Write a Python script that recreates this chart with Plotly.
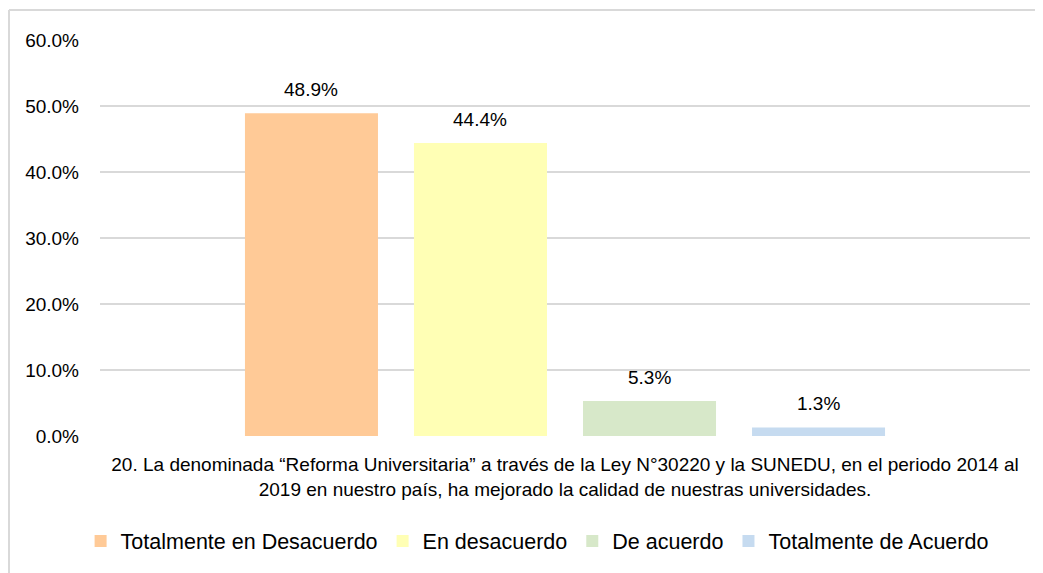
import plotly.graph_objects as go

categories = ["20. La denominada “Reforma Universitaria” a través de la Ley N°30220 y la SUNEDU, en el periodo 2014 al<br>2019 en nuestro país, ha mejorado la calidad de nuestras universidades."]
series_names = ["Totalmente en Desacuerdo", "En desacuerdo", "De acuerdo", "Totalmente de Acuerdo"]
series_values = [48.9, 44.4, 5.3, 1.3]
series_colors = ["#FFCA97", "#FFFFB5", "#D7E8C9", "#C6DBF0"]
y_ticks = [0, 10, 20, 30, 40, 50, 60]
y_tick_labels = ["0.0%", "10.0%", "20.0%", "30.0%", "40.0%", "50.0%", "60.0%"]

FONT = "Liberation Sans, Arial, sans-serif"
bargap = 0.273
bargroupgap = 0.213

fig = go.Figure()
n = len(series_names)
slot = (1 - bargap) / n
for i, (name, val, col) in enumerate(zip(series_names, series_values, series_colors)):
    fig.add_trace(go.Bar(
        x=[0], y=[val], name=name,
        marker=dict(color=col, line=dict(width=0)),
    ))
    fig.add_annotation(
        x=(i - (n - 1) / 2) * slot, y=val, xref="x", yref="y",
        text=f"{val:.1f}%", showarrow=False, yanchor="bottom", yshift=11,
        font=dict(family=FONT, size=19, color="#000000"),
    )

fig.update_layout(
    width=1043, height=573,
    margin=dict(l=92, r=21, t=32, b=145),
    paper_bgcolor="white", plot_bgcolor="white",
    barmode="group", bargap=bargap, bargroupgap=bargroupgap,
    font=dict(family=FONT, size=19, color="#000000"),
    showlegend=True,
    legend=dict(orientation="h", x=0.470, xanchor="center", y=-0.265, yanchor="middle",
                font=dict(family=FONT, size=21.5), itemwidth=30, traceorder="normal"),
    xaxis=dict(tickmode="array", tickvals=[0], ticktext=categories, range=[-0.5, 0.5],
               showgrid=False, zeroline=False, showline=False, ticks="",
               tickfont=dict(family=FONT, size=19), ticklabelstandoff=15),
    yaxis=dict(range=[0, 60], tickmode="array", tickvals=y_ticks, ticktext=y_tick_labels,
               showgrid=True, gridcolor="#D9D9D9", gridwidth=1.5, zeroline=False,
               showline=False, ticks="", ticklabelstandoff=20,
               tickfont=dict(family=FONT, size=19)),
    shapes=[
        dict(type="line", xref="paper", yref="paper", x0=-91/930, x1=1.1, y0=1 + 30/396, y1=1 + 30/396,
             line=dict(color="#D9D9D9", width=2)),
        dict(type="line", xref="paper", yref="paper", x0=-91/930, x1=-91/930, y0=1 + 30/396, y1=-0.5,
             line=dict(color="#D9D9D9", width=2)),
    ],
)

fig.write_html("out.html")
